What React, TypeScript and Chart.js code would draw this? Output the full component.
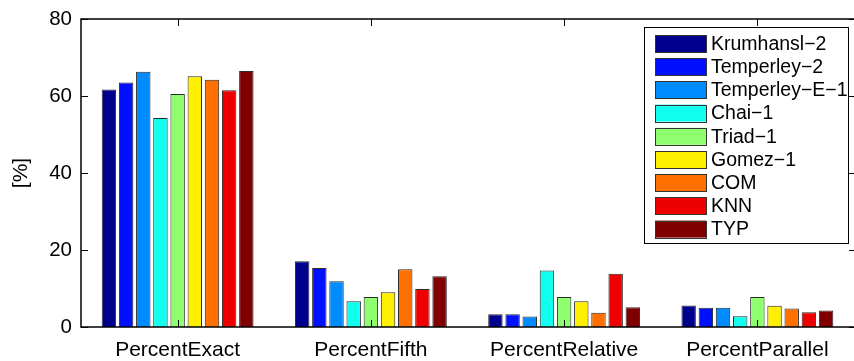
import React, { useEffect, useRef } from "react";
import { Chart, registerables } from "chart.js";

Chart.register(...registerables);

const categories = ["PercentExact", "PercentFifth", "PercentRelative", "PercentParallel"];
const seriesNames = [
  "Krumhansl\u22122",
  "Temperley\u22122",
  "Temperley\u2212E\u22121",
  "Chai\u22121",
  "Triad\u22121",
  "Gomez\u22121",
  "COM",
  "KNN",
  "TYP",
];
const seriesColors = [
  "#00008F",
  "#0010FF",
  "#008CFF",
  "#10FFEF",
  "#8FFF70",
  "#FFEF00",
  "#FF7000",
  "#EF0000",
  "#800000",
];
// values per series: [Exact, Fifth, Relative, Parallel]
const krumhansl2 = [61.7, 17.1, 3.3, 5.6];
const temperley2 = [63.5, 15.3, 3.3, 5.0];
const temperleyE1 = [66.3, 11.9, 2.7, 5.0];
const chai1 = [54.3, 6.7, 14.7, 2.8];
const triad1 = [60.5, 7.8, 7.8, 7.8];
const gomez1 = [65.1, 9.0, 6.7, 5.5];
const com = [64.2, 15.0, 3.7, 4.8];
const knn = [61.5, 9.9, 13.8, 3.8];
const typ = [66.5, 13.2, 5.1, 4.3];
const seriesValues = [krumhansl2, temperley2, temperleyE1, chai1, triad1, gomez1, com, knn, typ];
const yTicks = [0, 20, 40, 60, 80];

const FONT = "'Liberation Sans', Arial, Helvetica, sans-serif";

const framePlugin = {
  id: "matlabFrame",
  afterDraw(chart: any) {
    const ctx = chart.ctx;
    const { left, right, top, bottom } = chart.chartArea;
    const xs = chart.scales.x;
    const ys = chart.scales.y;
    ctx.save();
    ctx.strokeStyle = "#000";
    ctx.lineWidth = 1.5;
    ctx.beginPath();
    ctx.moveTo(right + 5, top);
    ctx.lineTo(left, top);
    ctx.lineTo(left, bottom);
    ctx.lineTo(right + 5, bottom);
    ctx.stroke();
    const tl = 7;
    ctx.lineWidth = 1;
    ctx.beginPath();
    yTicks.forEach((v) => {
      const y = Math.round(ys.getPixelForValue(v)) + 0.5;
      ctx.moveTo(left, y);
      ctx.lineTo(left + tl, y);
      ctx.moveTo(right, y);
      ctx.lineTo(right - 5, y);
    });
    categories.forEach((_, i) => {
      const x = Math.round(xs.getPixelForValue(i)) + 0.5;
      ctx.moveTo(x, top);
      ctx.lineTo(x, top + tl);
      ctx.moveTo(x, bottom);
      ctx.lineTo(x, bottom - tl);
    });
    ctx.stroke();

    // legend
    const lx = 644, ly = 27, lw = 204, lh = 216;
    ctx.fillStyle = "#fff";
    ctx.fillRect(lx, ly, lw, lh);
    ctx.lineWidth = 1;
    ctx.strokeStyle = "#000";
    ctx.strokeRect(lx + 0.5, ly + 0.5, lw, lh);
    ctx.font = `19.5px ${FONT}`;
    ctx.textBaseline = "middle";
    ctx.textAlign = "left";
    chart.data.datasets.forEach((ds: any, i: number) => {
      const cy = 43.5 + i * 23.2;
      ctx.fillStyle = ds.backgroundColor;
      ctx.fillRect(655, cy - 8.5, 51, 17);
      ctx.strokeStyle = "#333";
      ctx.strokeRect(655.5, Math.round(cy - 8.5) + 0.5, 51, 17);
      ctx.fillStyle = "#000";
      ctx.fillText(ds.label, 711, cy + 1);
    });
    ctx.restore();
  },
};

export default function App() {
  const ref = useRef<HTMLCanvasElement>(null);
  useEffect(() => {
    if (!ref.current) return;
    const chart = new Chart(ref.current, {
      type: "bar",
      data: {
        labels: categories,
        datasets: seriesNames.map((name, i) => ({
          label: name,
          data: seriesValues[i],
          backgroundColor: seriesColors[i],
          borderColor: "#2a2a2a",
          borderWidth: 1,
          categoryPercentage: 0.8,
          barPercentage: 0.84,
        })),
      },
      options: {
        responsive: false,
        animation: false,
        devicePixelRatio: 1,
        layout: { padding: { left: 0, top: 19, right: 0, bottom: 0 } },
        plugins: { legend: { display: false }, tooltip: { enabled: false } },
        scales: {
          x: {
            grid: { display: false, drawTicks: false },
            border: { display: false },
            ticks: { color: "#000", font: { family: FONT, size: 21 }, padding: 11 },
            afterFit: (s: any) => {
              s.height = 34;
              s.paddingLeft = 0;
              s.paddingRight = 0;
            },
          },
          y: {
            min: 0,
            max: 80,
            grid: { display: false, drawTicks: false },
            border: { display: false },
            afterBuildTicks: (s: any) => {
              s.ticks = yTicks.map((v) => ({ value: v }));
            },
            ticks: { color: "#000", font: { family: FONT, size: 20.5 }, padding: 9 },
            title: {
              display: true,
              text: "[%]",
              color: "#000",
              font: { family: FONT, size: 21 },
              padding: { top: 9, bottom: 0 },
            },
            afterFit: (s: any) => {
              s.width = 81;
              s.paddingTop = 0;
              s.paddingBottom = 0;
            },
          },
        },
      },
      plugins: [framePlugin],
    });
    return () => chart.destroy();
  }, []);
  return (
    <div style={{ position: "absolute", left: 0, top: 0, width: 854, height: 361, overflow: "hidden", background: "#fff" }}>
      <canvas ref={ref} width={854} height={361} style={{ display: "block" }} />
    </div>
  );
}
